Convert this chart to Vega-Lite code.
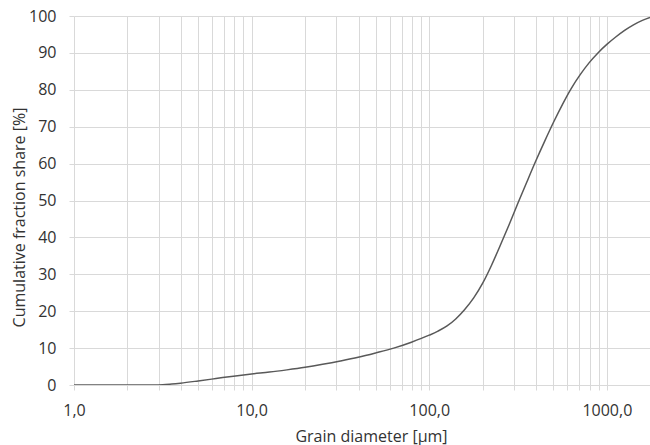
{
  "$schema": "https://vega.github.io/schema/vega-lite/v6.json",
  "autosize": "none",
  "width": 576,
  "height": 369,
  "padding": {"left": 74, "top": 16, "right": 0, "bottom": 60},
  "background": "white",
  "config": {
    "view": {"stroke": null},
    "font": "Open Sans",
    "axis": {
      "labelFont": "Open Sans",
      "titleFont": "Open Sans",
      "labelFontSize": 16,
      "titleFontSize": 16,
      "titleFontWeight": "normal",
      "labelColor": "#333333",
      "titleColor": "#333333",
      "gridColor": "#d9d9d9",
      "gridWidth": 1,
      "tickColor": "#d9d9d9",
      "tickSize": 5,
      "domain": false
    }
  },
  "data": {
    "values": [
      {"d": 1, "c": 0},
      {"d": 2, "c": 0},
      {"d": 2.8, "c": 0},
      {"d": 3.16, "c": 0.05},
      {"d": 3.55, "c": 0.25},
      {"d": 3.98, "c": 0.5},
      {"d": 5.0, "c": 1.1},
      {"d": 6.3, "c": 1.75},
      {"d": 7.9, "c": 2.4},
      {"d": 10, "c": 3.0},
      {"d": 12.6, "c": 3.5},
      {"d": 15.8, "c": 4.1},
      {"d": 20, "c": 4.8},
      {"d": 25.1, "c": 5.6},
      {"d": 31.6, "c": 6.5},
      {"d": 39.8, "c": 7.5},
      {"d": 50.1, "c": 8.7},
      {"d": 63.1, "c": 10.0},
      {"d": 79.4, "c": 11.6},
      {"d": 100, "c": 13.5},
      {"d": 112, "c": 14.6},
      {"d": 126, "c": 16.0},
      {"d": 141, "c": 17.9},
      {"d": 158, "c": 20.4},
      {"d": 178, "c": 23.6},
      {"d": 200, "c": 27.6},
      {"d": 224, "c": 32.4},
      {"d": 251, "c": 37.8},
      {"d": 282, "c": 43.5},
      {"d": 316, "c": 49.3},
      {"d": 355, "c": 55.1},
      {"d": 398, "c": 60.7},
      {"d": 447, "c": 66.1},
      {"d": 501, "c": 71.2},
      {"d": 562, "c": 76.0},
      {"d": 631, "c": 80.4},
      {"d": 708, "c": 84.1},
      {"d": 794, "c": 87.3},
      {"d": 891, "c": 90.0},
      {"d": 1000, "c": 92.3},
      {"d": 1122, "c": 94.3},
      {"d": 1259, "c": 96.1},
      {"d": 1413, "c": 97.6},
      {"d": 1585, "c": 98.8},
      {"d": 1750, "c": 99.6}
    ]
  },
  "mark": {"type": "line", "color": "#595959", "strokeWidth": 1.5, "interpolate": "monotone", "clip": true},
  "encoding": {
    "x": {
      "field": "d",
      "type": "quantitative",
      "scale": {"type": "log", "domain": [1, 1750], "nice": false},
      "axis": {
        "title": "Grain diameter [µm]",
        "values": [1,2,3,4,5,6,7,8,9,10,20,30,40,50,60,70,80,90,100,200,300,400,500,600,700,800,900,1000],
        "labelExpr": "(datum.value == 1 || datum.value == 10 || datum.value == 100 || datum.value == 1000) ? replace(format(datum.value, '.1f'), '.', ',') : ''",
        "labelPadding": 12,
        "labelFlush": false,
        "labelOverlap": false,
        "titleX": 297,
        "titleY": 56,
        "titleBaseline": "alphabetic",
        "titleAnchor": null
      }
    },
    "y": {
      "field": "c",
      "type": "quantitative",
      "scale": {"domain": [0, 100], "nice": false},
      "axis": {
        "title": "Cumulative fraction share [%]",
        "values": [0,10,20,30,40,50,60,70,80,90,100],
        "labelPadding": 13,
        "titleAngle": -90,
        "titleX": -50,
        "titleY": 201,
        "titleAlign": "center",
        "titleBaseline": "alphabetic"
      }
    }
  }
}
